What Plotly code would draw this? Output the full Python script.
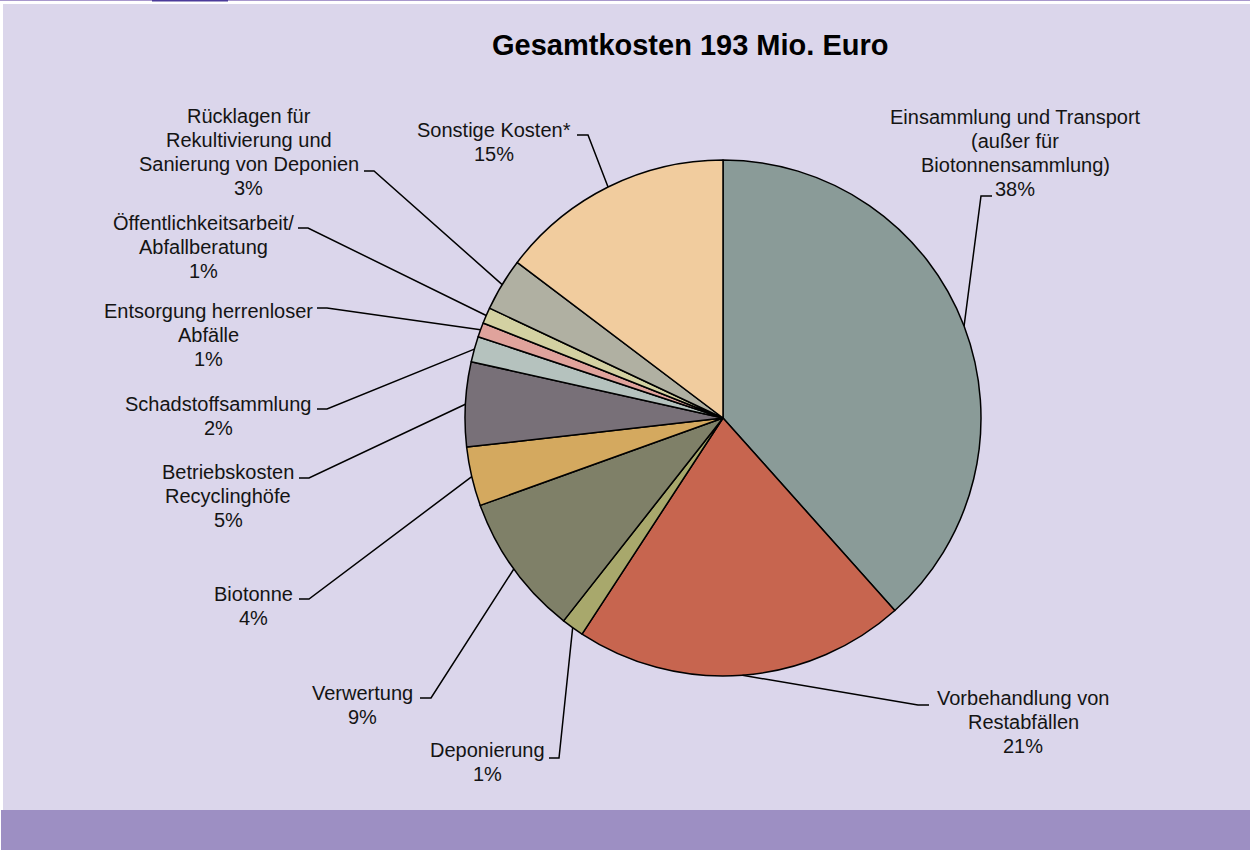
import math
import plotly.graph_objects as go

# Kostenanteile (Prozent der Gesamtkosten), im Uhrzeigersinn ab 12 Uhr
labels = [
    "Einsammlung und Transport<br>(außer für<br>Biotonnensammlung)",
    "Vorbehandlung von<br>Restabfällen",
    "Deponierung",
    "Verwertung",
    "Biotonne",
    "Betriebskosten<br>Recyclinghöfe",
    "Schadstoffsammlung",
    "Entsorgung herrenloser<br>Abfälle",
    "Öffentlichkeitsarbeit/<br>Abfallberatung",
    "Rücklagen für<br>Rekultivierung und<br>Sanierung von Deponien",
    "Sonstige Kosten*",
]
values = [38.4, 20.8, 1.4, 8.9, 3.7, 5.3, 1.6, 0.9, 1.0, 3.3, 14.7]
colors = ["#8a9b98", "#c7654f", "#a8a86c", "#7f8068", "#d4a95f", "#787078",
          "#b5c2be", "#e0a39c", "#d3d1a2", "#b0b0a2", "#f1cc9e"]

title = "Gesamtkosten 193 Mio. Euro"

W, H = 1250, 850
CX, CY, R = 723, 418, 258  # Kreismitte / Radius in Pixel
LINE_H = 24.2               # Zeilenabstand der Beschriftungen

# Beschriftungs-Layout: Textmitte (x, y), Knick der Linie (x, y), Linienende am Text (x)
label_pos = [
    (1015, 153, 981, 196, 992),
    (1023, 722, 918, 705, 929),
    (487, 762, 559, 758, 549),
    (362, 705, 431, 698, 420),
    (253, 606, 309, 599, 299),
    (228, 496, 309, 478, 299),
    (218, 416, 327, 409, 317),
    (208, 335, 327, 308, 317),
    (203, 247, 308, 228, 298),
    (249, 152, 374, 171, 364),
    (494, 142, 588, 135, 577),
]


def px(x):
    return x / W


def py(y):
    return 1 - y / H


fig = go.Figure()
fig.add_trace(go.Pie(
    labels=[l.replace("<br>", " ") for l in labels], values=values, sort=False,
    direction="clockwise", rotation=0, textinfo="none", hoverinfo="label+percent",
    marker=dict(colors=colors, line=dict(color="black", width=1.5)),
    domain=dict(x=[px(CX - R), px(CX + R)], y=[py(CY + R), py(CY - R)]),
    showlegend=False,
))

shapes = [
    # Hintergrund
    dict(type="rect", xref="paper", yref="paper", x0=px(3), x1=1, y0=py(810), y1=py(4),
         fillcolor="#dbd6eb", line_width=0, layer="below"),
    dict(type="rect", xref="paper", yref="paper", x0=px(1), x1=1, y0=0, y1=py(810),
         fillcolor="#9d8fc3", line_width=0, layer="below"),
    dict(type="rect", xref="paper", yref="paper", x0=0, x1=1, y0=py(1), y1=1,
         fillcolor="#a898cc", line_width=0, layer="below"),
    dict(type="rect", xref="paper", yref="paper", x0=px(152), x1=px(228), y0=py(1.5), y1=1,
         fillcolor="#4b3b9a", line_width=0, layer="below"),
]
annotations = [dict(text="<b>%s</b>" % title, x=px(690), y=py(45), xref="paper", yref="paper",
                    xanchor="center", yanchor="middle",
                    showarrow=False, font=dict(size=29, color="black"))]

total = sum(values)
cum = 0
for lab, v, pos in zip(labels, values, label_pos):
    mid = (cum + v / 2) / total * 2 * math.pi
    cum += v
    sx = CX + R * math.sin(mid)
    sy = CY - R * math.cos(mid)
    tx, ty, ex, ey, hx = pos
    shapes.append(dict(type="path", xref="paper", yref="paper",
                       path="M %f,%f L %f,%f L %f,%f" % (px(sx), py(sy), px(ex), py(ey), px(hx), py(ey)),
                       line=dict(color="black", width=1.5)))
    pct = round(v / total * 100)
    lines = lab.split("<br>") + ["%d%%" % pct]
    n = len(lines)
    for i, t in enumerate(lines):
        yy = ty + (i - (n - 1) / 2) * LINE_H
        annotations.append(dict(text=t, x=px(tx), y=py(yy),
                                xref="paper", yref="paper", xanchor="center", yanchor="middle",
                                showarrow=False, align="center",
                                font=dict(size=20, color="#141414")))

fig.update_layout(
    width=W, height=H, autosize=False,
    margin=dict(l=0, r=0, t=0, b=0),
    paper_bgcolor="white", plot_bgcolor="white",
    font=dict(family="Liberation Sans, Arial, sans-serif"),
    shapes=shapes, annotations=annotations,
)
fig.write_html("out.html", config={"displayModeBar": False},
               post_script="document.body.style.margin='0';")
